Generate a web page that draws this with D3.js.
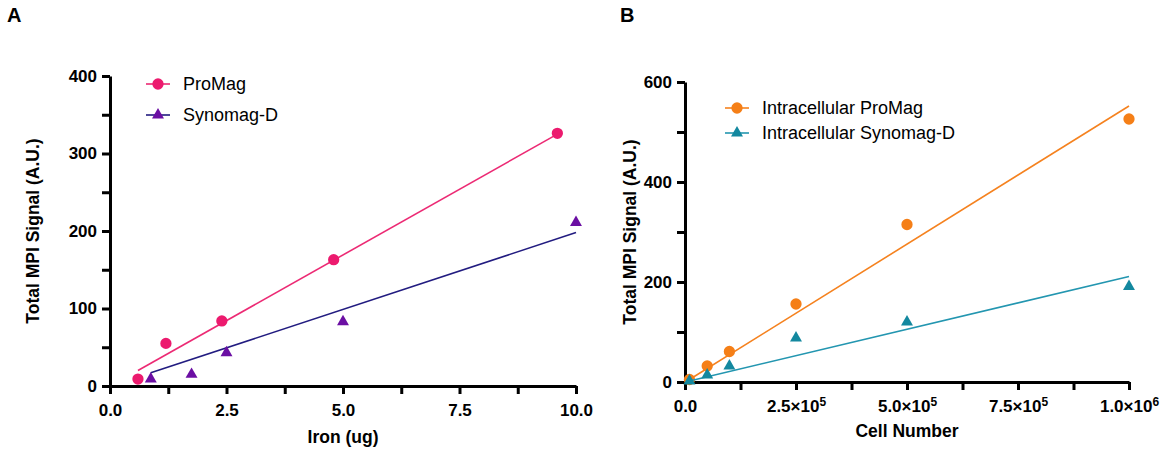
<!DOCTYPE html>
<html>
<head>
<meta charset="utf-8">
<script src="https://cdn.jsdelivr.net/npm/d3@7"></script>
<style>
  body { margin: 0; background: #fff; }
  svg text { font-family: "Liberation Sans", Arial, sans-serif; }
  .tick text { font-weight: bold; font-size: 17px; fill: #000; }
  .axis-label { font-weight: bold; font-size: 17.5px; fill: #000; }
  .panel-label { font-weight: bold; font-size: 20px; fill: #000; }
  .legend text { font-size: 18px; fill: #000; }
</style>
</head>
<body>
<svg width="1169" height="454"></svg>
<script>
// Panel A: iron mass vs total MPI signal
const ironProMag = [0.6, 1.2, 2.4, 4.8, 9.6];
const signalProMag = [9, 55, 84, 163, 326];
const ironSynomag = [0.875, 1.75, 2.5, 5, 10];
const signalSynomag = [9, 15, 43, 83, 211];
const fitProMagA = [[0.6, 20], [9.6, 325]];
const fitSynomagA = [[0.875, 17], [10, 198]];
const ticksAx = [0, 2.5, 5, 7.5, 10];
const minorAx = [1.25, 3.75, 6.25, 8.75];
const ticksAy = [0, 100, 200, 300, 400];
const minorAy = [50, 150, 250, 350];

// Panel B: cell number vs total MPI signal
const cells = [1e4, 5e4, 1e5, 2.5e5, 5e5, 1e6];
const signalCellProMag = [5, 32, 61, 156, 315, 526];
const signalCellSynomag = [2, 14, 32, 88, 120, 191];
const fitProMagB = [[1e4, 5], [1e6, 552]];
const fitSynomagB = [[1e4, 2], [1e6, 211]];
const ticksBx = [0, 2.5e5, 5e5, 7.5e5, 1e6];
const minorBx = [1.25e5, 3.75e5, 6.25e5, 8.75e5];
const ticksBy = [0, 200, 400, 600];
const minorBy = [100, 300, 500];

const svg = d3.select('svg');

const sciLabel = (sel, v) => {
  sel.text(null);
  if (v === 0) { sel.text('0.0'); return; }
  const e = Math.floor(Math.log10(v));
  const m = v / Math.pow(10, e);
  sel.append('tspan').text(m.toFixed(1) + '\u00d710');
  sel.append('tspan').attr('dy', '-0.5em').style('font-size', '12px').text(e);
};

const drawPanel = cfg => {
  const x = d3.scaleLinear().domain(cfg.xDomain).range(cfg.xRange);
  const y = d3.scaleLinear().domain(cfg.yDomain).range(cfg.yRange);
  const g = svg.append('g');

  // minor ticks
  g.append('g')
    .attr('transform', `translate(0,${cfg.yRange[0]})`)
    .call(d3.axisBottom(x).tickValues(cfg.minorX).tickSize(8).tickFormat(''))
    .call(a => a.select('.domain').remove());
  g.append('g')
    .attr('transform', `translate(${cfg.xRange[0]},0)`)
    .call(d3.axisLeft(y).tickValues(cfg.minorY).tickSize(8).tickFormat(''))
    .call(a => a.select('.domain').remove());

  const xAxisG = g.append('g')
    .attr('transform', `translate(0,${cfg.yRange[0]})`)
    .call(d3.axisBottom(x).tickValues(cfg.ticksX).tickSize(8).tickSizeOuter(0).tickPadding(10)
      .tickFormat(d3.format('.1f')));
  if (cfg.sci) xAxisG.selectAll('.tick text').each(function (d) { sciLabel(d3.select(this), d); });

  g.append('g')
    .attr('transform', `translate(${cfg.xRange[0]},0)`)
    .call(d3.axisLeft(y).tickValues(cfg.ticksY).tickSize(8).tickSizeOuter(0).tickPadding(5)
      .tickFormat(d3.format('d')));

  g.selectAll('.domain').attr('stroke', '#000').attr('stroke-width', 3);
  g.selectAll('.tick line').attr('stroke', '#000').attr('stroke-width', 3);

  // axis titles
  g.append('text').attr('class', 'axis-label')
    .attr('x', (cfg.xRange[0] + cfg.xRange[1]) / 2)
    .attr('y', cfg.yRange[0] + cfg.xTitleDy)
    .attr('text-anchor', 'middle')
    .text(cfg.xTitle);
  g.append('text').attr('class', 'axis-label')
    .attr('transform', `translate(${cfg.yTitleX},${(cfg.yRange[0] + cfg.yRange[1]) / 2}) rotate(-90)`)
    .attr('text-anchor', 'middle')
    .attr('dy', '0.35em')
    .text(cfg.yTitle);

  g.append('text').attr('class', 'panel-label')
    .attr('x', cfg.label[0]).attr('y', cfg.label[1]).text(cfg.labelText);

  const line = d3.line().x(d => x(d[0])).y(d => y(d[1]));
  const circle = d3.symbol().type(d3.symbolCircle).size(100);
  const tri = d3.symbol().type(d3.symbolTriangle).size(62);

  cfg.series.forEach(s => {
    g.append('path').attr('d', line(s.fit))
      .attr('fill', 'none').attr('stroke', s.lineColor).attr('stroke-width', 1.6);
    g.selectAll(null).data(s.xs.map((v, i) => [v, s.ys[i]]))
      .enter().append('path')
      .attr('transform', d => `translate(${x(d[0])},${y(d[1])})`)
      .attr('d', s.shape === 'circle' ? circle : tri)
      .attr('fill', s.markColor);
  });

  // legend
  const leg = g.append('g').attr('class', 'legend');
  cfg.series.forEach((s, i) => {
    const ly = cfg.legend[1] + i * cfg.legendStep;
    const lx = cfg.legend[0];
    leg.append('line').attr('x1', lx).attr('x2', lx + 24).attr('y1', ly).attr('y2', ly)
      .attr('stroke', s.lineColor).attr('stroke-width', 1.6);
    leg.append('path').attr('transform', `translate(${lx + 12},${ly})`)
      .attr('d', s.shape === 'circle' ? circle : tri).attr('fill', s.markColor);
    leg.append('text').attr('x', lx + cfg.legendTextDx).attr('y', ly).attr('dy', '0.35em').text(s.name);
  });
};

drawPanel({
  xDomain: [0, 10], xRange: [110, 576],
  yDomain: [0, 400], yRange: [386, 76],
  ticksX: ticksAx, minorX: minorAx, ticksY: ticksAy, minorY: minorAy,
  xTitle: 'Iron (ug)', xTitleDy: 57, yTitle: 'Total MPI Signal (A.U.)', yTitleX: 33,
  label: [7, 22], labelText: 'A',
  legend: [146, 84], legendStep: 31, legendTextDx: 37,
  series: [
    { name: 'ProMag', xs: ironProMag, ys: signalProMag, fit: fitProMagA, shape: 'circle',
      markColor: '#ec1a6e', lineColor: '#ec2a74' },
    { name: 'Synomag-D', xs: ironSynomag, ys: signalSynomag, fit: fitSynomagA, shape: 'triangle',
      markColor: '#6b0fa3', lineColor: '#221c80' }
  ]
});

drawPanel({
  xDomain: [0, 1e6], xRange: [685, 1129],
  yDomain: [0, 600], yRange: [382, 82],
  ticksX: ticksBx, minorX: minorBx, ticksY: ticksBy, minorY: minorBy, sci: true,
  xTitle: 'Cell Number', xTitleDy: 55, yTitle: 'Total MPI Signal (A.U.)', yTitleX: 630,
  label: [620, 22], labelText: 'B',
  legend: [725, 108], legendStep: 25, legendTextDx: 37,
  series: [
    { name: 'Intracellular ProMag', xs: cells, ys: signalCellProMag, fit: fitProMagB, shape: 'circle',
      markColor: '#f57f17', lineColor: '#f5821f' },
    { name: 'Intracellular Synomag-D', xs: cells, ys: signalCellSynomag, fit: fitSynomagB, shape: 'triangle',
      markColor: '#13889f', lineColor: '#2396b0' }
  ]
});
</script>
</body>
</html>
